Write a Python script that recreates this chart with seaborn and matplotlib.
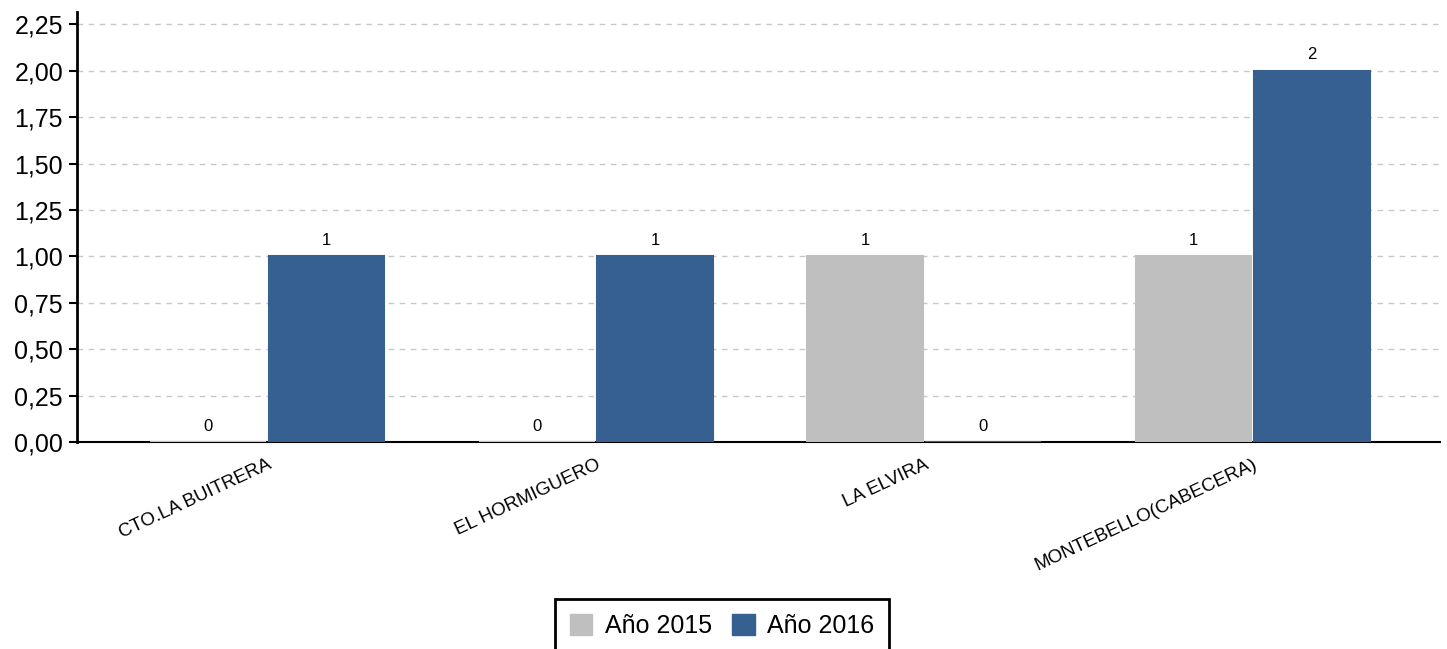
import pandas as pd
import matplotlib.pyplot as plt
import seaborn as sns
from matplotlib.ticker import FuncFormatter, MultipleLocator

sns.set_style("white")
plt.rcParams['font.family'] = ['Liberation Sans', 'DejaVu Sans']
plt.rcParams['text.color'] = 'black'
plt.rcParams['xtick.color'] = 'black'
plt.rcParams['ytick.color'] = 'black'

veredas = ["CTO.LA BUITRERA", "EL HORMIGUERO", "LA ELVIRA", "MONTEBELLO(CABECERA)"]
anio_2015 = [0, 0, 1, 1]
anio_2016 = [1, 1, 0, 2]
series = ["Año 2015", "Año 2016"]
colores = ["#BFBFBF", "#36608F"]

df = pd.DataFrame({
    "vereda": veredas * 2,
    "valor": anio_2015 + anio_2016,
    "serie": [series[0]] * 4 + [series[1]] * 4,
})

fig = plt.figure(figsize=(14.47, 6.49), dpi=100)
ax = fig.add_axes([0.0532, 0.319, 0.9418, 0.6625])

sns.barplot(data=df, x="vereda", y="valor", hue="serie", palette=colores,
            saturation=1, width=0.72, gap=0.02, ax=ax, legend=False, zorder=3)

for cont in ax.containers:
    for p in cont.patches:
        p.set_edgecolor(p.get_facecolor())
        p.set_linewidth(1.5)
    ax.bar_label(cont, fmt="%d", padding=6, fontsize=12, color="black")

ax.set_xlim(-0.58, 3.57)
ax.set_ylim(0, 2.317)
ax.yaxis.set_major_locator(MultipleLocator(0.25))
ax.yaxis.set_major_formatter(FuncFormatter(lambda v, p: f"{v:.2f}".replace(".", ",")))
ax.grid(axis="y", linestyle=(0, (4, 4)), color="#C8C8C8", linewidth=1, zorder=0)
ax.set_xlabel("")
ax.set_ylabel("")

for s in ["top", "right"]:
    ax.spines[s].set_visible(False)
ax.spines["left"].set_linewidth(2)
ax.spines["bottom"].set_linewidth(1.5)
ax.spines["left"].set_color("black")
ax.spines["bottom"].set_color("black")

ax.tick_params(axis="y", length=6, width=1.5, labelsize=18, left=True, pad=4)
ax.tick_params(axis="x", length=0, labelsize=13.5, pad=10)
plt.setp(ax.get_xticklabels(), rotation=25, ha="right", rotation_mode="anchor")

handles = [plt.Rectangle((0, 0), 1, 1, color=c) for c in colores]
leg = fig.legend(handles, series, loc="upper center", bbox_to_anchor=(0.499, 0.077),
                 ncol=2, fontsize=18, frameon=True, fancybox=False, framealpha=1,
                 handlelength=0.9, handleheight=0.9, handletextpad=0.5,
                 columnspacing=0.8, borderpad=0.6, borderaxespad=0)
leg.get_frame().set_edgecolor("black")
leg.get_frame().set_linewidth(2)

fig.savefig("out.png", dpi=100)
